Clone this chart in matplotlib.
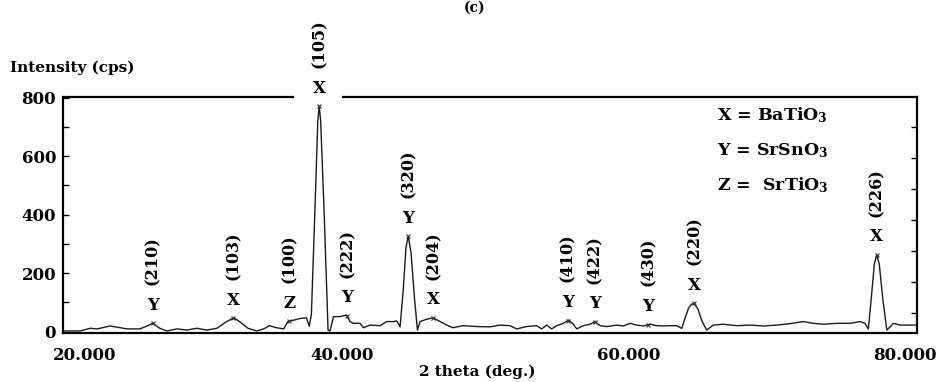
import numpy as np
import matplotlib
matplotlib.use('Agg')
import matplotlib.pyplot as plt
from matplotlib.transforms import ScaledTranslation

# XRD scan, 2 theta (deg.) vs counts per second
two_theta = [20.0, 21.2, 21.9, 22.4, 23.3, 24.0, 24.5, 25.4, 25.9, 26.3,
             26.8, 27.3, 28.0, 28.7, 29.4, 30.1, 30.8, 31.5, 32.0, 32.4,
             33.0, 33.6, 34.1, 34.5, 35.0, 35.5, 35.8, 36.2, 36.7, 37.1,
             37.3, 37.45, 37.7, 37.9, 38.0, 38.1, 38.35, 38.62, 38.76, 39.0,
             39.46, 39.93, 40.16, 40.4, 40.87, 41.1, 41.57, 42.27, 42.74, 43.2,
             43.45, 43.68, 43.9, 44.1, 44.26, 44.45, 44.7, 44.9, 45.08, 45.55,
             46.0, 46.5, 46.96, 47.4, 48.1, 49.07, 50.0, 50.7, 51.4, 51.87,
             52.58, 53.28, 53.63, 53.98, 54.33, 54.68, 55.15, 55.51, 55.86, 56.09,
             56.56, 57.03, 57.38, 57.73, 58.2, 58.9, 59.37, 59.84, 60.3, 60.77,
             61.24, 61.71, 62.18, 62.65, 63.11, 63.47, 63.7, 63.95, 64.15, 64.33,
             64.6, 64.9, 65.22, 65.69, 66.4, 67.33, 68.27, 69.21, 70.14, 71.08,
             72.02, 72.72, 73.42, 74.36, 75.3, 76.0, 76.35, 76.58, 76.8, 77.0,
             77.17, 77.35, 77.6, 77.88, 78.35, 78.82, 79.75, 80.0]
intensity = [2, 2, 11, 9, 19, 13, 9, 9, 19, 28,
             11, 2, 9, 5, 11, 5, 11, 34, 47, 34,
             11, 2, 9, 20, 13, 9, 34, 39, 45, 47,
             18, 60, 420, 720, 770, 720, 400, 5, 2, 51,
             51, 56, 34, 28, 28, 13, 22, 20, 34, 34,
             36, 16, 140, 290, 325, 270, 110, 5, 34, 42,
             47, 34, 22, 13, 20, 17, 16, 22, 20, 9,
             17, 20, 9, 22, 9, 20, 28, 39, 25, 9,
             20, 25, 34, 20, 17, 22, 19, 28, 22, 19,
             25, 20, 19, 20, 20, 11, 45, 80, 93, 96,
             78, 35, 5, 22, 25, 20, 22, 19, 22, 27,
             34, 28, 25, 28, 28, 34, 28, 9, 120, 230,
             262, 230, 110, 5, 28, 22, 22, 22]

# indexed reflections
peak_pos = [26.3, 31.95, 35.9, 38.0, 39.96, 44.26, 46.0, 55.45, 57.35, 61.1, 64.33, 77.17]
peak_phase = ['Y', 'X', 'Z', 'X', 'Y', 'Y', 'X', 'Y', 'Y', 'Y', 'X', 'X']
peak_hkl = ['(210)', '(103)', '(100)', '(105)', '(222)', '(320)', '(204)',
            '(410)', '(422)', '(430)', '(220)', '(226)']

phase_key = ['X = BaTiO$_3$', 'Y = SrSnO$_3$', 'Z =  SrTiO$_3$']

x_ticks = [20, 40, 60, 80]
x_ticklabels = ['20.000', '40.000', '60.000', '80.000']
y_ticks = [0, 200, 400, 600, 800]

plt.rcParams.update({
    'font.family': 'DejaVu Serif',
    'font.weight': 'bold',
    'mathtext.fontset': 'custom',
    'mathtext.rm': 'DejaVu Serif:bold',
    'mathtext.it': 'DejaVu Serif:bold',
    'mathtext.bf': 'DejaVu Serif:bold',
})

fig = plt.figure(figsize=(9.41, 3.82), dpi=100)
ax = fig.add_axes([0.0670, 0.1283, 0.9075, 0.6178])

ax.plot(two_theta, intensity, color='#1a1a1a', lw=1.0, zorder=2)

ymax = 802
ax.set_xlim(20, 80)
ax.set_ylim(-5, ymax)

# frame: top edge is broken around the strongest reflection label
for s in ['left', 'right', 'bottom']:
    ax.spines[s].set_linewidth(1.6)
ax.spines['top'].set_visible(False)
main = peak_pos[int(np.argmax(np.interp(peak_pos, two_theta, intensity)))]
gap_l = (main - 1.85 - 20) / 60
gap_r = (main + 1.7 - 20) / 60
ax.axhline(ymax, 0, gap_l, color='black', lw=1.6, clip_on=False)
ax.axhline(ymax, gap_r, 1, color='black', lw=1.6, clip_on=False)

ax.set_yticks(y_ticks)
ax.set_yticks([100, 300, 500, 700], minor=True)
ax.tick_params(axis='y', which='both', direction='in', length=4, width=1,
               labelsize=12, pad=5)
ax.set_xticks(x_ticks)
ax.set_xticklabels(x_ticklabels)
ax.tick_params(axis='x', length=0, labelsize=12, pad=10)
shifts = [22, -6, -4, -12]
for lab, dx in zip(ax.get_xticklabels(), shifts):
    lab.set_transform(lab.get_transform() + ScaledTranslation(dx / 100, 0, fig.dpi_scale_trans))

# right edge carries its own evenly spaced inward ticks
ax2 = ax.twinx()
ax2.set_ylim(-0.645, 6.968)
ax2.set_yticks(range(7))
ax2.tick_params(axis='y', direction='in', length=4, width=1, labelright=False)
for s in ax2.spines.values():
    s.set_visible(False)

# peak markers and labels
heights = np.interp(peak_pos, two_theta, intensity)
ax.plot(peak_pos, heights, 'x', color='#333333', ms=3.5, mew=0.8, zorder=3)
for x, h, ph, hkl in zip(peak_pos, heights, peak_phase, peak_hkl):
    ax.annotate(ph, (x, h), xytext=(0, 13), textcoords='offset points',
                ha='center', va='center', fontsize=12, annotation_clip=False)
    ax.annotate(hkl, (x, h), xytext=(0, 45), textcoords='offset points',
                ha='center', va='center', rotation=90, fontsize=11.5,
                annotation_clip=False)

for txt, yb in zip(phase_key, [0.903, 0.754, 0.606]):
    ax.text(0.766, yb, txt, transform=ax.transAxes, ha='left', va='baseline',
            fontsize=12.5)

fig.text(10 / 941, 0.822, 'Intensity (cps)', ha='left', va='center', fontsize=11)
fig.text(477 / 941, 1 - 372 / 382, '2 theta (deg.)', ha='center', va='center', fontsize=11)
fig.text(0.504, 0.998, '(c)', ha='center', va='top', fontsize=10)

fig.savefig('out.png', dpi=100)
